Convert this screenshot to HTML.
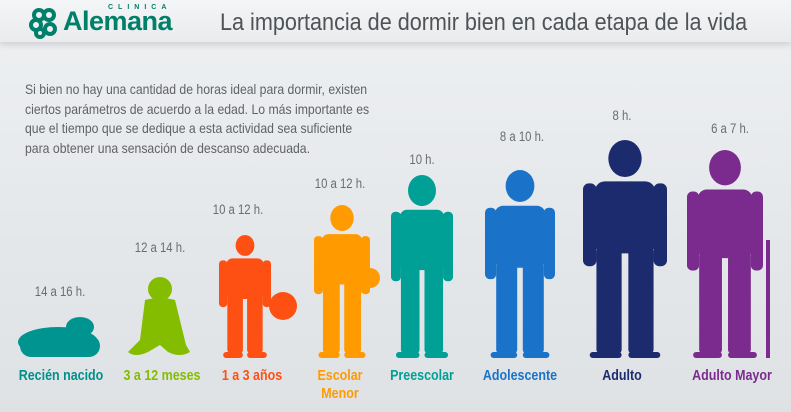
<!DOCTYPE html>
<html><head><meta charset="utf-8"><style>
body{margin:0;width:791px;height:412px;overflow:hidden;font-family:"Liberation Sans",sans-serif;}
#c{position:relative;width:791px;height:412px;background:linear-gradient(#eef0f2,#e4e7ea 60%,#dfe2e5);}
.hd{position:absolute;left:0;top:0;width:791px;height:42px;background:linear-gradient(#f4f5f6,#e9ebed);box-shadow:0 3px 6px rgba(0,0,0,.12);}
.t{position:absolute;white-space:nowrap;}
.h{position:absolute;color:#6a6c70;font-size:13.5px;transform:translateX(-50%) scaleX(0.84);white-space:nowrap;}
.l{position:absolute;font-weight:bold;font-size:14.5px;transform:translateX(-50%) scaleX(0.86);text-align:center;line-height:18px;white-space:nowrap;}
</style></head><body><div id="c">
<div class="hd"></div>
<svg class="t" style="left:28px;top:7px" width="32" height="32" viewBox="0 0 32 32"><g fill="none" stroke="#00806a" stroke-width="4"><circle cx="11" cy="8" r="5"/><circle cx="21" cy="8" r="5"/><circle cx="8" cy="18" r="5"/><circle cx="22" cy="22" r="5"/><circle cx="12" cy="26" r="4"/></g></svg>
<div class="t" style="left:108px;top:4px;font-size:7px;letter-spacing:5px;color:#00806a;font-weight:bold">CLINICA</div>
<div class="t" style="left:63px;top:6px;font-size:27px;font-weight:bold;color:#00806a;letter-spacing:-0.5px">Alemana</div>
<div class="t" style="left:220px;top:9px;font-size:24px;color:#505356;transform:scaleX(0.9);transform-origin:left">La importancia de dormir bien en cada etapa de la vida</div>
<div class="t" style="left:25px;top:80px;font-size:13.6px;color:#606266;line-height:19.5px;transform:scaleX(0.9);transform-origin:left">Si bien no hay una cantidad de horas ideal para dormir, existen<br>ciertos parámetros de acuerdo a la edad. Lo más importante es<br>que el tiempo que se dedique a esta actividad sea suficiente<br>para obtener una sensación de descanso adecuada.</div>
<svg class="t" style="left:0;top:0" width="791" height="412" id="s">
<g fill="#009490"><ellipse cx="58" cy="342" rx="40" ry="15"/><ellipse cx="80" cy="327" rx="14" ry="10"/><rect x="20" y="335" width="80" height="22" rx="11"/></g>
<g fill="#84bd00"><circle cx="160" cy="289" r="12"/><path d="M145 300 Q160 296 175 300 L186 345 L190 352 Q180 358 168 352 L160 345 L148 352 Q135 358 128 352 L140 340 Z"/></g>
<circle cx="283" cy="306" r="14" fill="#ff5014"/>
</svg>
<div class="h" style="left:60px;top:284px">14 a 16 h.</div>
<div class="h" style="left:160px;top:240px">12 a 14 h.</div>
<div class="h" style="left:238px;top:202px">10 a 12 h.</div>
<div class="h" style="left:340px;top:176px">10 a 12 h.</div>
<div class="h" style="left:422px;top:152px">10 h.</div>
<div class="h" style="left:522px;top:129px">8 a 10 h.</div>
<div class="h" style="left:622px;top:108px">8 h.</div>
<div class="h" style="left:730px;top:121px">6 a 7 h.</div>
<div class="l" style="left:61px;top:367px;color:#00908c">Recién nacido</div>
<div class="l" style="left:162px;top:367px;color:#84bd00">3 a 12 meses</div>
<div class="l" style="left:252px;top:367px;color:#ff5014">1 a 3 años</div>
<div class="l" style="left:340px;top:367px;color:#ff9a00">Escolar<br>Menor</div>
<div class="l" style="left:422px;top:367px;color:#00a096">Preescolar</div>
<div class="l" style="left:520px;top:367px;color:#1a73c8">Adolescente</div>
<div class="l" style="left:622px;top:367px;color:#1c2a6e">Adulto</div>
<div class="l" style="left:732px;top:367px;color:#7b2a8e">Adulto Mayor</div>
</div>
<script>
var s=document.getElementById('s'),ns='http://www.w3.org/2000/svg';
function fig(cx,top,bot,w,col){
 var h=bot-top,r=h*0.085,g=document.createElementNS(ns,'g');g.setAttribute('fill',col);
 var hy=top+r,st=top+2*r+h*0.02,hip=top+h*0.52;
 var html='<ellipse cx="'+cx+'" cy="'+hy+'" rx="'+r*0.9+'" ry="'+r+'"/>'+
 '<rect x="'+(cx-w*0.36)+'" y="'+st+'" width="'+w*0.72+'" height="'+(hip-st)+'" rx="'+w*0.12+'"/>'+
 '<rect x="'+(cx-w*0.5)+'" y="'+(st+2)+'" width="'+w*0.16+'" height="'+h*0.38+'" rx="'+w*0.07+'"/>'+
 '<rect x="'+(cx+w*0.34)+'" y="'+(st+2)+'" width="'+w*0.16+'" height="'+h*0.38+'" rx="'+w*0.07+'"/>'+
 '<rect x="'+(cx-w*0.34)+'" y="'+(hip-5)+'" width="'+w*0.3+'" height="'+(bot-hip)+'" rx="3"/>'+
 '<rect x="'+(cx+w*0.04)+'" y="'+(hip-5)+'" width="'+w*0.3+'" height="'+(bot-hip)+'" rx="3"/>'+
 '<rect x="'+(cx-w*0.42)+'" y="'+(bot-6)+'" width="'+w*0.38+'" height="6" rx="3"/>'+
 '<rect x="'+(cx+w*0.04)+'" y="'+(bot-6)+'" width="'+w*0.38+'" height="6" rx="3"/>';
 g.innerHTML=html;s.appendChild(g);
}
fig(245,235,358,52,'#ff5014');
fig(342,205,358,56,'#ff9a00');
fig(422,175,358,62,'#00a096');
fig(520,170,358,70,'#1a73c8');
fig(625,140,358,84,'#1c2a6e');
fig(725,150,358,76,'#7b2a8e');
var c=document.createElementNS(ns,'rect');c.setAttribute('x',766);c.setAttribute('y',240);c.setAttribute('width',4);c.setAttribute('height',118);c.setAttribute('fill','#7b2a8e');s.appendChild(c);
var b=document.createElementNS(ns,'circle');b.setAttribute('cx',370);b.setAttribute('cy',278);b.setAttribute('r',10);b.setAttribute('fill','#ff9a00');s.appendChild(b);
</script>
</body></html>
